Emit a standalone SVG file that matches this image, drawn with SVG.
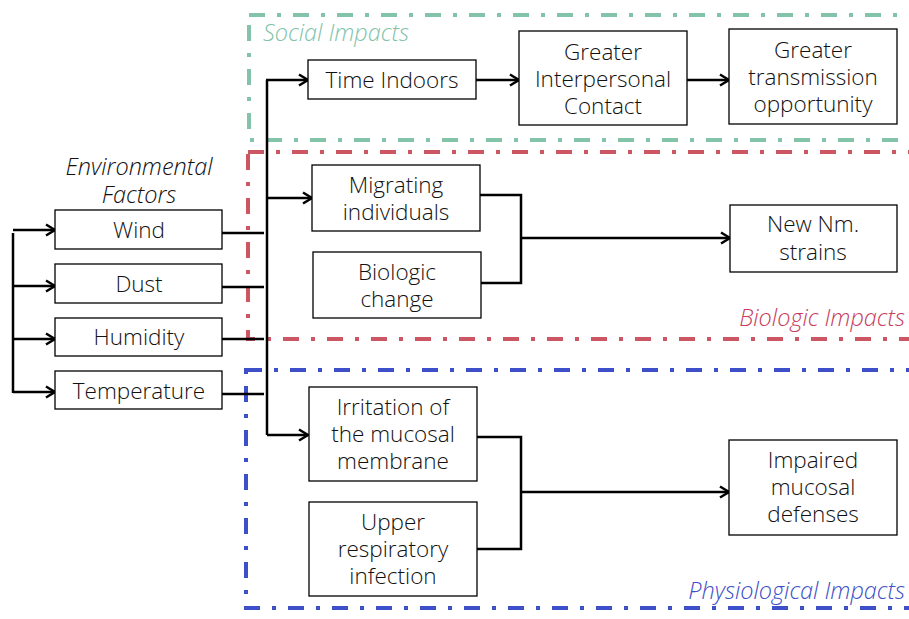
<svg xmlns="http://www.w3.org/2000/svg" width="909" height="619" viewBox="0 0 909 619">
<style>
.bg{fill:#fff}
.box{fill:#fff;stroke:#000;stroke-width:1.3}
.t{font-family:"Open Sans","Liberation Sans",sans-serif;font-size:22.5px;font-weight:300;fill:#111;text-anchor:middle}
.it{font-family:"Open Sans","Liberation Sans",sans-serif;font-size:23.5px;font-weight:300;font-style:italic}
.reg{fill:none;stroke-width:4;stroke-dasharray:16 12 4 12}
.c{fill:none;stroke:#000;stroke-width:2.5}
</style>
<defs>
<marker id="ah" markerWidth="14" markerHeight="14" refX="11" refY="7" orient="auto" markerUnits="userSpaceOnUse">
<path d="M2,1.5 L11,7 L2,12.5" fill="none" stroke="#000" stroke-width="2.5"/>
</marker>
</defs>
<rect class="bg" x="0" y="0" width="909" height="619"/>
<g id="regions">
<rect class="reg" x="249" y="15" width="680" height="125" stroke="#82c3a9"/>
<rect class="reg" x="248" y="152" width="680" height="187" stroke="#cc5763"/>
<rect class="reg" x="246" y="370" width="680" height="238" stroke="#3d4fc9"/>
<text class="it" x="263" y="41" fill="#82c3a9">Social Impacts</text>
<text class="it" x="905" y="326" fill="#c83c5c" text-anchor="end">Biologic Impacts</text>
<text class="it" x="905" y="599" fill="#3d4fc9" text-anchor="end">Physiological Impacts</text>
<text class="it" x="139" y="175" fill="#111" text-anchor="middle">Environmental</text>
<text class="it" x="139" y="203" fill="#111" text-anchor="middle">Factors</text>
</g>
<g id="connectors">
<path class="c" d="M13,233 V393"/>
<path class="c" d="M13,230 H55" marker-end="url(#ah)"/>
<path class="c" d="M13,286 H55" marker-end="url(#ah)"/>
<path class="c" d="M13,339 H55" marker-end="url(#ah)"/>
<path class="c" d="M13,392 H55" marker-end="url(#ah)"/>
<path class="c" d="M222,233 H264"/>
<path class="c" d="M222,287 H264"/>
<path class="c" d="M222,339 H264"/>
<path class="c" d="M222,394 H264"/>
<path class="c" d="M267,80 V435"/>
<path class="c" d="M266,80 H308" marker-end="url(#ah)"/>
<path class="c" d="M267,198 H312" marker-end="url(#ah)"/>
<path class="c" d="M267,435 H308" marker-end="url(#ah)"/>
<path class="c" d="M476,80 H519" marker-end="url(#ah)"/>
<path class="c" d="M687,80 H729" marker-end="url(#ah)"/>
<path class="c" d="M480,195 H521 V283 H481"/>
<path class="c" d="M521,238 H730" marker-end="url(#ah)"/>
<path class="c" d="M477,437 H521 V549 H477"/>
<path class="c" d="M521,492 H729" marker-end="url(#ah)"/>
</g>
<g id="wind"><rect class="box" x="55" y="210" width="167" height="39"/><text class="t" x="139" y="238">Wind</text></g>
<g id="dust"><rect class="box" x="55" y="264" width="167" height="39"/><text class="t" x="139" y="292">Dust</text></g>
<g id="humidity"><rect class="box" x="55" y="318" width="167" height="38"/><text class="t" x="139" y="345">Humidity</text></g>
<g id="temperature"><rect class="box" x="55" y="371" width="167" height="38"/><text class="t" x="139" y="399">Temperature</text></g>
<g id="time-indoors"><rect class="box" x="308" y="60" width="168" height="39"/><text class="t" x="392" y="88">Time Indoors</text></g>
<g id="interpersonal"><rect class="box" x="519" y="31" width="168" height="94"/><text class="t" x="603" y="60">Greater</text><text class="t" x="603" y="87">Interpersonal</text><text class="t" x="603" y="114">Contact</text></g>
<g id="transmission"><rect class="box" x="729" y="29" width="168" height="95"/><text class="t" x="813" y="58">Greater</text><text class="t" x="813" y="85">transmission</text><text class="t" x="813" y="112">opportunity</text></g>
<g id="migrating"><rect class="box" x="312" y="165" width="168" height="66"/><text class="t" x="396" y="193">Migrating</text><text class="t" x="396" y="220">individuals</text></g>
<g id="biologic-change"><rect class="box" x="313" y="252" width="168" height="66"/><text class="t" x="397" y="280">Biologic</text><text class="t" x="397" y="307">change</text></g>
<g id="new-strains"><rect class="box" x="730" y="205" width="167" height="67"/><text class="t" x="813" y="232">New Nm.</text><text class="t" x="813" y="260">strains</text></g>
<g id="irritation"><rect class="box" x="309" y="387" width="168" height="94"/><text class="t" x="393" y="415">Irritation of</text><text class="t" x="393" y="442">the mucosal</text><text class="t" x="393" y="469">membrane</text></g>
<g id="upper-resp"><rect class="box" x="309" y="502" width="168" height="94"/><text class="t" x="393" y="530">Upper</text><text class="t" x="393" y="557">respiratory</text><text class="t" x="393" y="584">infection</text></g>
<g id="impaired"><rect class="box" x="729" y="440" width="168" height="95"/><text class="t" x="813" y="468">Impaired</text><text class="t" x="813" y="495">mucosal</text><text class="t" x="813" y="522">defenses</text></g>
</svg>
